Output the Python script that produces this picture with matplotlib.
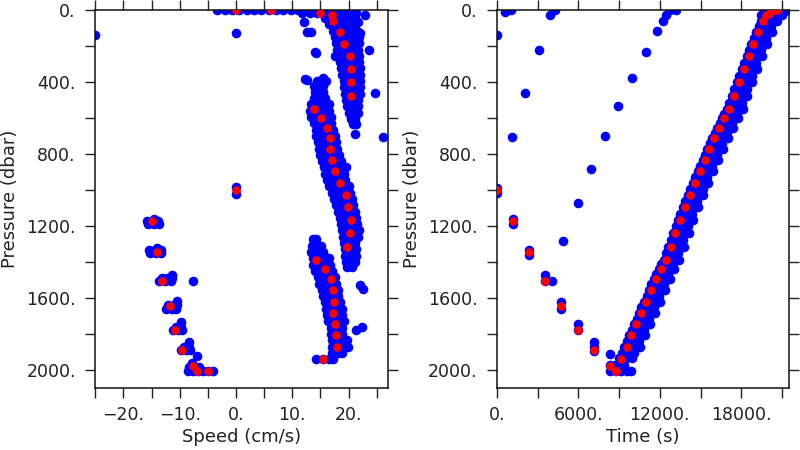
import matplotlib
matplotlib.use("Agg")
import matplotlib.pyplot as plt
from matplotlib.ticker import MultipleLocator, FuncFormatter

# ---------------- data ----------------
# red (bin-averaged) points: pressure (dbar), speed (cm/s), time (s)
red_pressure = [1000, 1175, 1346, 1508, 1647, 1777, 1890, 1978, 2006, 2004,
                1937, 1872, 1807, 1746, 1684, 1621, 1556, 1495, 1439, 1387,
                1315, 1241, 1166, 1096, 1027, 962, 897, 836, 774, 711,
                656, 603, 552, 479, 403, 330, 256, 189, 124, 60,
                28, 15, 0, 0]
red_speed = [0.0, -15.0, -14.0, -13.2, -11.7, -10.8, -9.5, -7.6, -7.0, -4.9,
             15.4, 17.9, 17.8, 17.5, 17.2, 17.4, 17.2, 16.9, 15.8, 14.3,
             19.8, 20.2, 20.5, 19.9, 19.5, 18.5, 17.6, 17.1, 16.7, 16.7,
             16.2, 15.1, 13.9, 20.4, 20.4, 20.4, 20.2, 19.1, 18.5, 17.3,
             17.0, 14.9, 6.3, 0.0]
red_time = [0, 1180, 2360, 3580, 4760, 5990, 7170, 8370, 8760, 8800,
            9180, 9550, 9910, 10280, 10620, 10990, 11360, 11720, 12060, 12430,
            12790, 13150, 13470, 13840, 14210, 14580, 14950, 15310, 15650, 16000,
            16370, 16730, 17100, 17450, 17820, 18190, 18550, 18890, 19250, 19610,
            19850, 20100, 20400, 20640]

# blue (raw) samples, speed panel: rows of (pressure, [speeds])
spd_surface = [(0, [-3.3, -2.0, -0.7, 0.6, 1.9, 3.2, 4.5, 5.8, 7.1, 8.4, 9.7, 11.0])]
spd_upper_band = [
    (15, [11.8, 13.1, 14.4, 15.7, 17.0, 18.3, 19.6, 20.9, 21.3]),
    (45, [15.8, 17.0, 18.2, 19.4, 20.6, 21.2]),
    (80, [16.5, 17.7, 18.9, 20.1, 21.2]),
    (115, [17.2, 18.4, 19.6, 20.8, 21.5]),
    (150, [17.6, 18.8, 20.0, 21.2, 21.8]),
    (185, [17.8, 19.0, 20.2, 21.4, 21.9]),
    (220, [18.0, 19.2, 20.4, 21.6]),
    (255, [17.5, 18.6, 19.8, 21.0, 21.9]),
    (290, [18.4, 19.6, 20.8, 21.9]),
    (325, [18.7, 19.9, 21.0, 22.0]),
    (360, [18.9, 20.0, 21.1, 22.0]),
    (395, [19.1, 20.2, 21.2, 22.0]),
    (430, [19.2, 20.3, 21.3, 22.0]),
    (465, [19.3, 20.4, 21.4, 22.0]),
    (500, [19.5, 20.6, 21.6]),
    (535, [19.8, 20.8, 21.7]),
    (570, [20.1, 21.0, 21.6]),
    (605, [20.4, 21.2]),
    (635, [20.8, 21.3]),
]
spd_mid_band = [
    (395, [14.4, 15.4, 16.0]),
    (425, [13.9, 14.8, 15.5]),
    (455, [14.0, 14.9, 15.5]),
    (490, [13.8, 14.8, 15.9]),
    (525, [13.3, 14.4, 15.5, 16.5]),
    (560, [13.2, 14.3, 15.4, 16.6]),
    (595, [13.4, 14.5, 15.6, 16.8]),
    (630, [13.8, 14.9, 16.0, 16.9]),
    (665, [14.2, 15.3, 16.3, 17.2]),
    (700, [14.3, 15.4, 16.5, 17.5]),
    (735, [14.5, 15.6, 16.7, 17.7]),
    (770, [14.7, 15.8, 16.9, 17.9]),
    (805, [15.0, 16.1, 17.2, 18.3]),
    (840, [15.3, 16.4, 17.5, 18.6]),
    (875, [15.6, 16.7, 17.8, 18.9, 19.6]),
    (910, [15.8, 16.9, 18.0, 19.1]),
    (945, [16.1, 17.2, 18.3, 19.4]),
    (980, [16.6, 17.7, 18.8, 20.0]),
    (1015, [17.0, 18.1, 19.2, 20.2]),
    (1050, [17.4, 18.5, 19.6, 20.6]),
    (1085, [17.7, 18.8, 19.9, 20.8]),
    (1120, [18.1, 19.2, 20.3, 21.2]),
    (1155, [18.4, 19.5, 20.6, 21.4]),
    (1190, [18.6, 19.7, 20.8, 21.5]),
    (1225, [18.8, 19.9, 21.0, 21.8]),
    (1260, [19.0, 20.1, 21.2, 21.7]),
    (1295, [19.2, 20.3, 21.2]),
    (1330, [19.3, 20.4, 21.3]),
    (1365, [19.3, 20.4, 21.3]),
    (1400, [19.5, 20.5, 21.1]),
    (1430, [19.8, 20.6]),
]
spd_lower_band = [
    (1275, [13.7, 14.2]),
    (1310, [13.5, 14.4, 15.1]),
    (1345, [13.4, 14.4, 15.5]),
    (1380, [13.6, 14.7, 15.8, 16.5]),
    (1415, [13.7, 14.8, 15.9, 16.7]),
    (1450, [14.1, 15.2, 16.3, 17.1]),
    (1485, [14.5, 15.6, 16.7, 17.5]),
    (1520, [14.8, 15.9, 17.0, 17.8]),
    (1555, [15.2, 16.3, 17.4, 18.1]),
    (1590, [15.5, 16.6, 17.6, 18.2]),
    (1625, [15.8, 16.9, 17.9, 18.5]),
    (1660, [16.0, 17.1, 18.2, 18.8]),
    (1695, [16.1, 17.2, 18.3, 18.9]),
    (1730, [16.4, 17.5, 18.6, 19.1]),
    (1765, [16.8, 17.9, 18.8]),
    (1800, [16.9, 18.0, 18.9]),
    (1835, [17.0, 18.1, 19.2, 19.7]),
    (1870, [17.0, 18.1, 19.2, 19.9]),
    (1905, [17.1, 18.1, 18.9]),
    (1940, [14.3, 15.4, 16.5, 17.3]),
]
spd_descent = [
    (1170, [-15.8, -14.8, -13.8]), (1190, [-15.6, -14.6, -13.6]), (1160, [-14.6]),
    (1335, [-15.4, -14.4, -13.4]), (1350, [-15.2, -14.2, -13.4]), (1320, [-14.0]),
    (1505, [-13.6, -12.6, -11.6]), (1490, [-13.2, -12.2, -11.3]), (1470, [-11.4]),
    (1660, [-12.4, -11.4, -10.6]), (1640, [-12.0, -11.0, -10.4]), (1615, [-10.5]),
    (1780, [-11.2, -10.3, -9.6]), (1760, [-10.6, -9.8]), (1735, [-9.7]),
    (1890, [-9.7, -8.9, -8.2]), (1870, [-9.2, -8.4]), (1845, [-8.4]),
    (2005, [-8.5, -7.6, -6.7, -5.8, -4.9, -4.0]), (1985, [-8.4, -7.5, -6.6]),
    (1960, [-7.8]), (1920, [-7.0]),
]
spd_outliers = [
    (139, [-25.0]), (130, [0.0]), (985, [0.0]), (1020, [0.0]),
    (65, [12.0, 21.7]), (121, [12.6, 13.4]), (232, [14.0]), (238, [14.3]),
    (384, [12.3]), (390, [12.6]), (377, [15.5]), (28, [22.9]), (223, [23.7]),
    (459, [24.7]), (130, [22.0]), (691, [21.1]), (706, [26.1]),
    (1504, [-7.7]), (1530, [22.0]), (1550, [22.6]), (1764, [22.3]), (1779, [21.4]),
]

# blue (raw) samples, time panel: rows of (pressure, [times])
time_band = [
    (2005, [8350, 8750, 9150, 9550, 9900]),
    (1975, [8300, 8700, 9400]),
    (1935, [9030, 9480, 9930]),
    (1910, [8320]),
    (1905, [9230, 9650, 10100]),
    (1872, [9400, 9850, 10300, 10550]),
    (1840, [9580, 10030, 10480]),
    (1807, [9760, 10210, 10660, 10910]),
    (1776, [9950, 10400, 10850]),
    (1746, [10130, 10580, 11030, 11280]),
    (1715, [10300, 10750, 11200]),
    (1684, [10470, 10920, 11370, 11620]),
    (1652, [10650, 11100, 11550]),
    (1621, [10840, 11290, 11740, 11990]),
    (1588, [11030, 11480, 11930]),
    (1556, [11210, 11660, 12110, 12360]),
    (1525, [11390, 11840, 12290]),
    (1495, [11570, 12020, 12470, 12720]),
    (1467, [11740, 12190, 12640]),
    (1439, [11910, 12360, 12810, 13060]),
    (1413, [12100, 12550, 13000]),
    (1387, [12280, 12730, 13180, 13430]),
    (1351, [12460, 12910, 13360]),
    (1315, [12640, 13090, 13540, 13790]),
    (1278, [12820, 13270, 13720]),
    (1241, [13000, 13450, 13900, 14150]),
    (1203, [13160, 13610, 14060]),
    (1166, [13320, 13770, 14220, 14470]),
    (1131, [13500, 13950, 14400]),
    (1096, [13690, 14140, 14590, 14840]),
    (1061, [13870, 14320, 14770]),
    (1027, [14060, 14510, 14960, 15210]),
    (995, [14250, 14700, 15150]),
    (962, [14430, 14880, 15330, 15580]),
    (930, [14610, 15060, 15510]),
    (897, [14800, 15250, 15700, 15950]),
    (866, [14980, 15430, 15880]),
    (836, [15160, 15610, 16060, 16310]),
    (805, [15330, 15780, 16230]),
    (774, [15500, 15950, 16400, 16650]),
    (742, [15670, 16120, 16570]),
    (711, [15850, 16300, 16750, 17000]),
    (683, [16040, 16490, 16940]),
    (656, [16220, 16670, 17120, 17370]),
    (630, [16400, 16850, 17300]),
    (603, [16580, 17030, 17480, 17730]),
    (578, [16760, 17210, 17660]),
    (552, [16950, 17400, 17850, 18100]),
    (515, [17120, 17570, 18020]),
    (479, [17300, 17750, 18200, 18450]),
    (441, [17490, 17940, 18390]),
    (403, [17670, 18120, 18570, 18820]),
    (366, [17860, 18310, 18760]),
    (330, [18040, 18490, 18940, 19190]),
    (293, [18220, 18670, 19120]),
    (256, [18400, 18850, 19300, 19550]),
    (222, [18570, 19020, 19470]),
    (189, [18740, 19190, 19640, 19890]),
    (156, [18920, 19370, 19820]),
    (124, [19100, 19550, 20000, 20250]),
    (92, [19280, 19730, 20180]),
    (60, [19460, 19910, 20360, 20610]),
    (30, [19450, 19850, 20250, 20650, 21000]),
    (5, [19700, 20100, 20500, 20900, 21250]),
]
time_descent = [
    (990, [0]), (1015, [0]),
    (1160, [1180]), (1190, [1180]),
    (1335, [2360]), (1360, [2360]),
    (1475, [3580]), (1505, [3580]), (1508, [4030]),
    (1620, [4760]), (1660, [4760]),
    (1745, [5990]), (1780, [5990]),
    (1845, [7170]), (1875, [7170]), (1895, [7170]),
]
time_outliers = [
    (139, [0]), (10, [615]), (0, [1080]), (223, [3120]), (459, [2090]),
    (706, [1100]), (28, [3950]), (0, [4270]), (1281, [4890]), (1073, [5990]),
    (882, [6920]), (702, [7950]), (535, [8930]), (381, [9960]), (236, [10950]),
    (117, [11830]), (60, [12250]), (28, [12490]), (0, [12740]), (0, [13230]),
]

pressure_label = "Pressure (dbar)"
speed_label = "Speed (cm/s)"
time_label = "Time (s)"


def flatten(*groups):
    ps, xs = [], []
    for g in groups:
        for p, vals in g:
            for v in vals:
                ps.append(p)
                xs.append(v)
    return xs, ps


def fmt(v, pos):
    return (f"{v:.0f}.").replace("-", "\u2212")


BLUE = "#0000ff"
RED = "#ff0000"
TXT = "#222222"

fig = plt.figure(figsize=(8, 4.5), dpi=100)
ax1 = fig.add_axes([0.119, 0.1378, 0.366, 0.8402])
ax2 = fig.add_axes([0.621, 0.1378, 0.365, 0.8402])

bx, bp = flatten(spd_surface, spd_upper_band, spd_mid_band, spd_lower_band,
                 spd_descent, spd_outliers)
ax1.scatter(bx, bp, s=48, c=BLUE, linewidths=0, zorder=2)
ax1.scatter(red_speed, red_pressure, s=38, c=RED, linewidths=0, zorder=3)

tx, tp = flatten(time_band, time_descent, time_outliers)
ax2.scatter(tx, tp, s=48, c=BLUE, linewidths=0, zorder=2)
ax2.scatter(red_time, red_pressure, s=38, c=RED, linewidths=0, zorder=3)

ax1.set_xlim(-25, 27)
ax2.set_xlim(0, 21500)
ax1.xaxis.set_major_locator(MultipleLocator(10))
ax1.xaxis.set_minor_locator(MultipleLocator(5))
ax2.xaxis.set_major_locator(MultipleLocator(6000))
ax2.xaxis.set_minor_locator(MultipleLocator(3000))

for ax, xl in ((ax1, speed_label), (ax2, time_label)):
    ax.set_ylim(2100, 0)
    ax.yaxis.set_major_locator(MultipleLocator(400))
    ax.yaxis.set_minor_locator(MultipleLocator(200))
    ax.xaxis.set_major_formatter(FuncFormatter(fmt))
    ax.yaxis.set_major_formatter(FuncFormatter(fmt))
    ax.tick_params(which="both", direction="out", top=True, right=True,
                   length=7, width=1.0, color="#222222",
                   labelsize=12.5, labelcolor=TXT)
    ax.tick_params(axis="x", which="both", pad=6)
    ax.tick_params(axis="y", which="both", pad=7)
    for sp in ax.spines.values():
        sp.set_linewidth(1.1)
        sp.set_color("#111111")
    ax.set_xlabel(xl, fontsize=13, color=TXT, labelpad=3)
    ax.set_ylabel(pressure_label, fontsize=13, color=TXT, labelpad=5)

fig.savefig("out.png", dpi=100)
